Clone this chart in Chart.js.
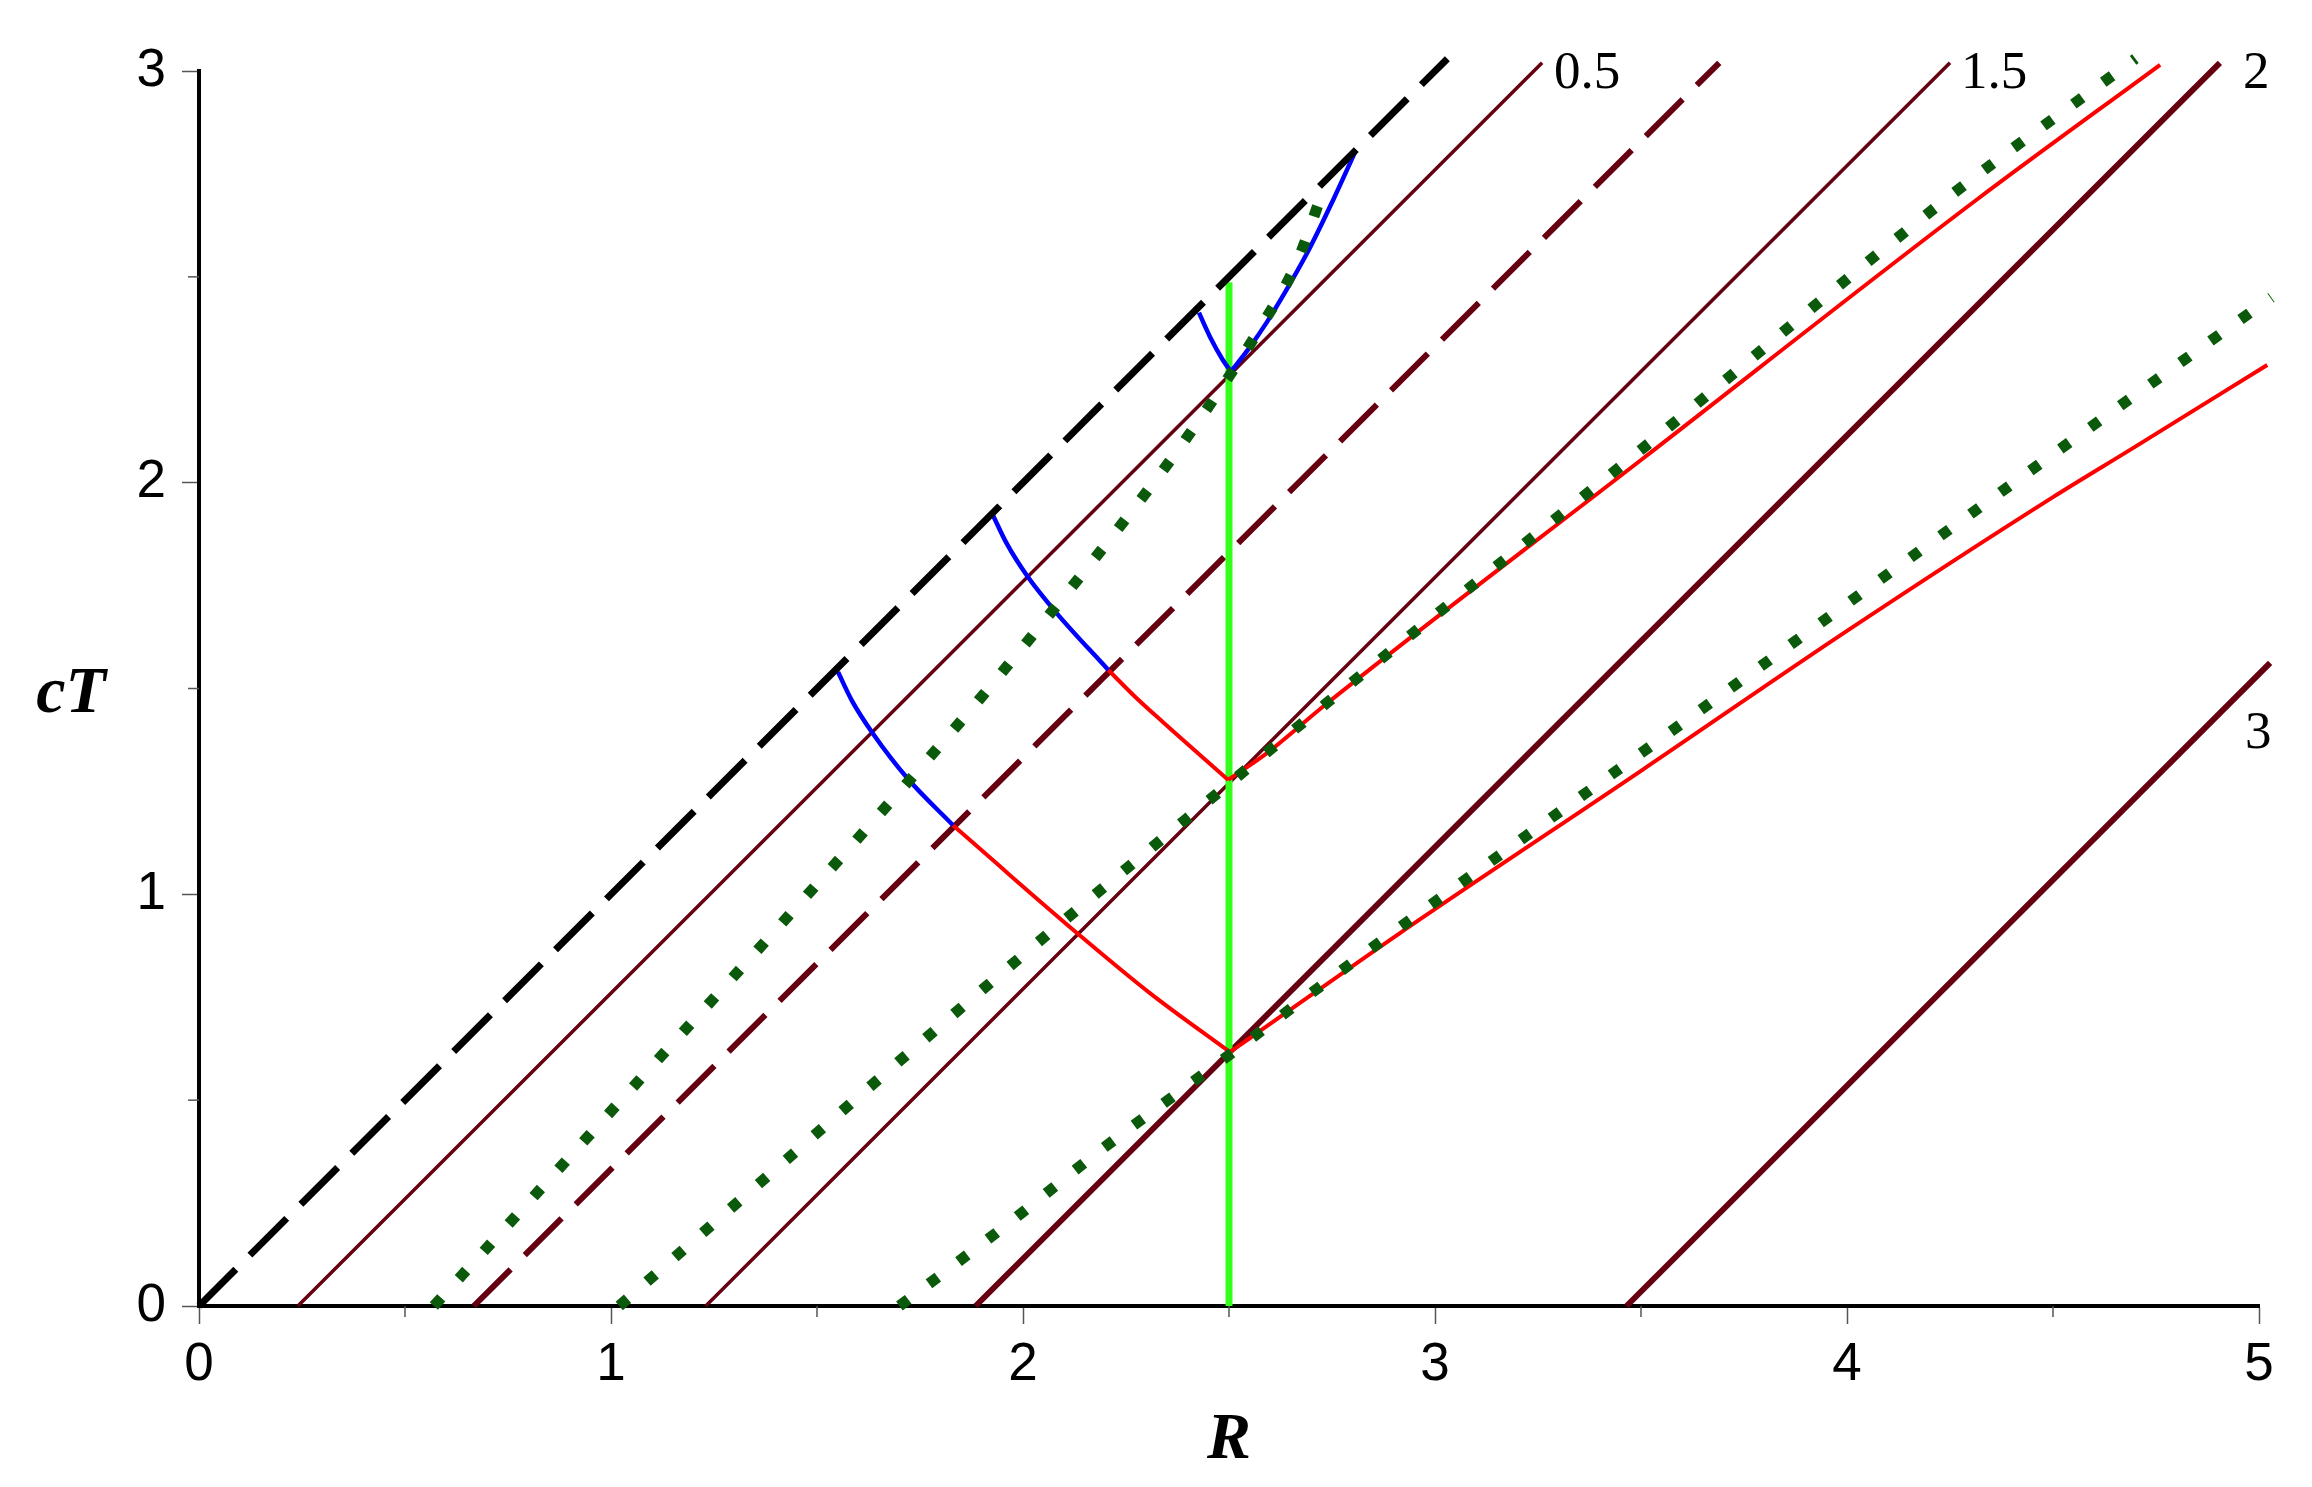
<!DOCTYPE html>
<html>
<head>
<meta charset="utf-8">
<title>R - cT diagram</title>
<script src="https://cdn.jsdelivr.net/npm/chart.js@4.4.1/dist/chart.umd.min.js"></script>
<style>
  html, body { margin: 0; padding: 0; background: #fff; }
  #wrap { width: 2312px; height: 1487px; }
</style>
</head>
<body>
<div id="wrap"><canvas id="chart" width="2312" height="1487"></canvas></div>
<script>
// points are [R, cT]
const lightCone = [[0, 0], [3.03, 3.03]];
const line05 = [[0.24, 0], [3.26, 3.02]];
const line1 = [[0.667, 0], [3.69, 3.02]];
const line15 = [[1.23, 0], [4.25, 3.02]];
const line2 = [[1.885, 0], [4.905, 3.02]];
const line3 = [[3.465, 0], [5.027, 1.562]];

const dottedA = [[0.57, 0], [0.786, 0.237], [1.0, 0.473], [1.476, 0.998], [1.782, 1.343], [1.903, 1.484],
  [2.138, 1.771], [2.255, 1.919], [2.367, 2.067], [2.473, 2.218], [2.575, 2.375], [2.665, 2.536], [2.73, 2.715]];
const dottedB = [[1.02, 0], [1.248, 0.2], [1.951, 0.811], [2.522, 1.287], [2.74, 1.467], [3.5, 2.08],
  [4.255, 2.70], [4.70, 3.03]];
const dottedC = [[1.70, 0], [1.96, 0.197], [2.18, 0.372], [2.478, 0.593], [2.85, 0.872], [3.5, 1.343],
  [4.0, 1.706], [4.655, 2.181], [5.03, 2.45]];

const blueLow = [[1.551, 1.54], [1.585, 1.47], [1.636, 1.39], [1.721, 1.28], [1.830, 1.168]];
const redLowL = [[1.830, 1.168], [1.944, 1.068], [2.017, 1.004], [2.131, 0.906], [2.308, 0.760], [2.502, 0.617]];
const redLowR = [[2.502, 0.617], [2.551, 0.651], [2.915, 0.906], [3.5, 1.30], [4.0, 1.64], [4.5, 1.965],
  [4.694, 2.084], [5.02, 2.286]];

const blueMid = [[1.927, 1.921], [1.96, 1.853], [2.009, 1.775], [2.080, 1.685], [2.207, 1.545]];
const redMidL = [[2.207, 1.545], [2.272, 1.480], [2.34, 1.418], [2.498, 1.278]];
const redMidR = [[2.498, 1.278], [2.592, 1.343], [2.733, 1.46], [3.5, 2.055], [4.313, 2.686], [4.76, 3.015]];

const blueTopL = [[2.427, 2.413], [2.454, 2.354], [2.485, 2.298], [2.505, 2.27]];
const blueTopR = [[2.505, 2.27], [2.551, 2.33], [2.592, 2.39], [2.624, 2.442], [2.697, 2.572],
  [2.752, 2.685], [2.806, 2.803]];

const worldLine = [[2.5, 0], [2.5, 2.487]];

const curveLabelText = ["0.5", "1.5", "2", "3"];
const curveLabelAt = [[3.289, 2.958], [4.277, 2.958], [4.961, 2.958], [4.966, 1.355]];

const xTickValues = [0, 1, 2, 3, 4, 5];
const yTickValues = [0, 1, 2, 3];

const MAROON = "#660011";
const DOTS = "#0b5a0b";

function pts(arr) {
  return arr.map(p => ({ x: p[0], y: p[1] }));
}

function curve(arr, color, width, dash, smooth) {
  return {
    data: pts(arr),
    borderColor: color,
    borderWidth: width,
    borderDash: dash || [],
    borderCapStyle: "butt",
    cubicInterpolationMode: smooth ? "monotone" : "default",
    tension: 0,
    showLine: true,
    pointRadius: 0,
    clip: 30
  };
}

// minor ticks, curve labels and axis names
const decorations = {
  id: "decorations",
  afterDraw(chart) {
    const { ctx, scales: { x, y } } = chart;
    ctx.save();
    ctx.strokeStyle = "#555";
    ctx.lineWidth = 1.5;
    x.ticks.forEach(t => {
      if (!Number.isInteger(t.value)) {
        const px = x.getPixelForValue(t.value);
        ctx.beginPath();
        ctx.moveTo(px, y.bottom);
        ctx.lineTo(px, y.bottom + 11);
        ctx.stroke();
      }
    });
    y.ticks.forEach(t => {
      if (!Number.isInteger(t.value)) {
        const py = y.getPixelForValue(t.value);
        ctx.beginPath();
        ctx.moveTo(x.left, py);
        ctx.lineTo(x.left - 11, py);
        ctx.stroke();
      }
    });

    ctx.fillStyle = "#000";
    ctx.font = '53px "Liberation Serif"';
    ctx.textAlign = "left";
    ctx.textBaseline = "alphabetic";
    curveLabelText.forEach((txt, i) => {
      ctx.fillText(txt, x.getPixelForValue(curveLabelAt[i][0]), y.getPixelForValue(curveLabelAt[i][1]));
    });

    ctx.font = 'bold italic 66px "Liberation Serif"';
    ctx.textAlign = "center";
    ctx.fillText("R", x.getPixelForValue(2.5), x.bottom - 29);
    ctx.fillText("cT", 71, y.getPixelForValue(1.443));
    ctx.restore();
  }
};

const tickFont = { family: "Liberation Sans", size: 53 };

new Chart(document.getElementById("chart"), {
  type: "scatter",
  data: {
    datasets: [
      curve(dottedA, DOTS, 11, [11, 26], true),
      curve(dottedB, DOTS, 11, [11, 26], true),
      curve(dottedC, DOTS, 11, [11, 26], true),
      curve(lightCone, "#000", 7, [52, 20]),
      curve(blueLow, "#0000ff", 4.5, null, true),
      curve(blueMid, "#0000ff", 4.5, null, true),
      curve(blueTopL, "#0000ff", 4.5, null, true),
      curve(blueTopR, "#0000ff", 4.5, null, true),
      curve(redLowL, "#ff0000", 4, null, true),
      curve(redLowR, "#ff0000", 4, null, true),
      curve(redMidL, "#ff0000", 4, null, true),
      curve(redMidR, "#ff0000", 4, null, true),
      curve(worldLine, "#33ff1a", 7),
      curve(line05, MAROON, 3.5),
      curve(line1, MAROON, 6, [52, 20]),
      curve(line15, MAROON, 3.5),
      curve(line2, MAROON, 6),
      curve(line3, MAROON, 6)
    ]
  },
  options: {
    responsive: false,
    animation: false,
    events: [],
    layout: { padding: { top: 71, right: 53, left: 0, bottom: 0 } },
    plugins: { legend: { display: false }, tooltip: { enabled: false } },
    scales: {
      x: {
        type: "linear",
        min: 0,
        max: 5,
        afterFit: s => { s.height = 181; },
        afterBuildTicks: s => {
          s.ticks = [];
          for (let v = 0; v <= 10; v++) s.ticks.push({ value: v / 2 });
        },
        ticks: {
          autoSkip: false,
          maxRotation: 0,
          padding: 10,
          color: "#000",
          font: tickFont,
          callback: v => (xTickValues.includes(v) ? String(v) : "")
        },
        grid: {
          drawOnChartArea: false,
          tickLength: 18,
          tickWidth: 1.5,
          tickColor: c => (Number.isInteger(c.tick.value) ? "#555" : "rgba(0,0,0,0)")
        },
        border: { color: "#000", width: 4 }
      },
      y: {
        type: "linear",
        min: 0,
        max: 3,
        afterFit: s => { s.width = 199; },
        afterBuildTicks: s => {
          s.ticks = [];
          for (let v = 0; v <= 6; v++) s.ticks.push({ value: v / 2 });
        },
        ticks: {
          autoSkip: false,
          padding: 16,
          color: "#000",
          font: tickFont,
          callback: v => (yTickValues.includes(v) ? String(v) : "")
        },
        grid: {
          drawOnChartArea: false,
          tickLength: 17,
          tickWidth: 1.5,
          tickColor: c => (Number.isInteger(c.tick.value) ? "#555" : "rgba(0,0,0,0)")
        },
        border: { color: "#000", width: 4 }
      }
    }
  },
  plugins: [decorations]
});
</script>
</body>
</html>
